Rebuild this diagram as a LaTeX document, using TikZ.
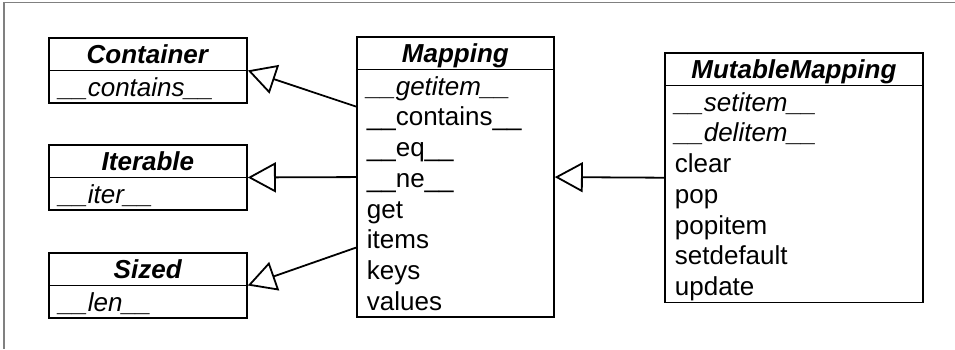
\documentclass[tikz,border=0pt]{standalone}
\usepackage{fontspec}
\setmainfont{Liberation Sans}
\usetikzlibrary{shapes.multipart,arrows.meta,calc}
\newcommand{\rowstrut}{\rule[-6pt]{0pt}{30.75pt}}
\newcommand{\dund}[1]{\char95\char95#1\char95\char95}
\newcommand{\cname}[1]{\rowstrut\textbf{\textit{#1}}}
\newcommand{\absm}[1]{\rowstrut\textit{\dund{#1}}}
\newcommand{\meth}[1]{\rowstrut#1}
\tikzset{
  uml/.style={rectangle split, rectangle split parts=2, draw, line width=1.8pt,
    rectangle split part align={center,left}, align=left,
    inner xsep=10pt, inner ysep=0pt, anchor=north west,
    font=\fontsize{26}{30.75}\selectfont},
  inherit/.style={draw, line width=1.8pt,
    -{Triangle[open,length=28pt,width=30pt]}},
  frame/.style={draw=gray, line width=1.5pt}
}

\begin{document}
\begin{tikzpicture}[x=1pt,y=-1pt]
  \useasboundingbox (0,0) rectangle (955,349);
  \draw [frame] (955,2.7) -- (4,2.7) -- (4,349);

  % abstract bases on the left
  \node [uml, minimum width=198pt] (cont) at (48,37)
     {\cname{Container}\nodepart{two}\absm{contains}};
  \node [uml, minimum width=198pt] (iter) at (48,144)
     {\cname{Iterable}\nodepart{two}\absm{iter}};
  \node [uml, minimum width=198pt] (size) at (48,252)
     {\cname{Sized}\nodepart{two}\absm{len}};

  \node [uml, minimum width=197pt] (map) at (356,36)
     {\cname{Mapping}\nodepart{two}\absm{getitem}\\ \meth{\dund{contains}}\\
      \meth{\dund{eq}}\\ \meth{\dund{ne}}\\ \meth{get}\\ \meth{items}\\
      \meth{keys}\\ \meth{values}};
  \node [uml, minimum width=258pt] (mut) at (664,52)
     {\cname{MutableMapping}\nodepart{two}\absm{setitem}\\ \absm{delitem}\\
      \meth{clear}\\ \meth{pop}\\ \meth{popitem}\\ \meth{setdefault}\\
      \meth{update}};

  \path [inherit] ($(map.north west)!0.25!(map.south west)$) -- (cont.text split east);
  \path [inherit] (map.west) -- (iter.text split east);
  \path [inherit] ($(map.north west)!0.75!(map.south west)$) -- (size.text split east);
  \path [inherit] (mut.west) -- (map.east);
\end{tikzpicture}
\end{document}
